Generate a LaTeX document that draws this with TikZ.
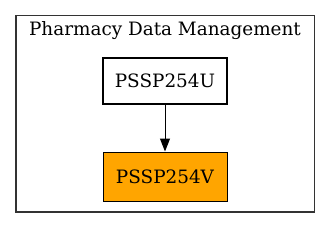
\documentclass[tikz,border=0pt]{standalone}
\usepackage{fontspec}
\setmainfont{DejaVu Serif}
\usetikzlibrary{arrows.meta}
\definecolor{gvorange}{HTML}{FFA500}
\tikzset{
  cluster/.style={draw=black!80, line width=1.2pt},
  nodebox/.style={draw=black, line width=1pt, minimum width=124pt, minimum height=49pt, inner sep=0pt, font=\fontsize{18.4}{22}\selectfont},
  boldbox/.style={nodebox, line width=2pt, minimum width=124pt, minimum height=46pt},
  filledbox/.style={nodebox, fill=gvorange},
  edge/.style={line width=1pt, -{Triangle[length=13pt,width=10pt]}}
}
\begin{document}
\begin{tikzpicture}[x=1pt,y=1pt]
\useasboundingbox (0,0) rectangle (331,228);
\draw[cluster] (16,16) rectangle (314.5,212.5);
\node[anchor=base, font=\fontsize{18.4}{22}\selectfont, inner sep=0pt] (title) at (165,192) {Pharmacy Data Management};
\node[boldbox] (u) at (165,147.5) {PSSP254U};
\node[filledbox] (v) at (165,51.5) {PSSP254V};
\draw[edge] (u) -- (v);
\end{tikzpicture}
\end{document}
